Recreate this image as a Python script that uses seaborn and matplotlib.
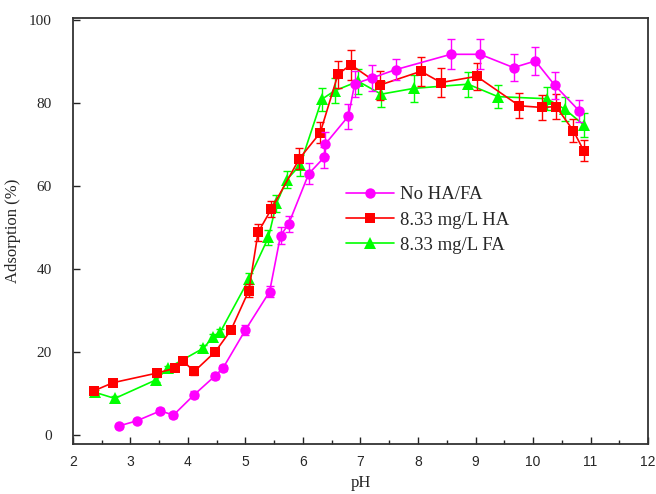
import numpy as np
import pandas as pd
import matplotlib
matplotlib.use("Agg")
import matplotlib.pyplot as plt
import seaborn as sns

# ---- data ----
ph_none = [2.81, 3.11, 3.52, 3.75, 4.11, 4.47, 4.61, 5.00, 5.42, 5.61, 5.75, 6.10,
           6.37, 6.39, 6.79, 6.90, 7.20, 7.61, 8.57, 9.08, 9.66, 10.04, 10.38, 10.80]
ads_none = [2.2, 3.4, 5.8, 4.8, 9.7, 14.2, 16.1, 25.3, 34.5, 48.0, 50.8, 62.9,
            66.9, 70.1, 76.8, 84.6, 86.0, 88.0, 91.7, 91.7, 88.5, 90.1, 84.2, 78.1]
err_none = [0.5, 0.5, 0.6, 0.6, 0.8, 0.8, 0.8, 1.2, 1.3, 2.0, 2.0, 2.5,
            2.5, 2.8, 3.0, 3.2, 3.2, 2.5, 3.6, 3.6, 3.2, 3.4, 3.2, 2.6]

ph_ha = [2.36, 2.70, 3.46, 3.78, 3.91, 4.11, 4.48, 4.75, 5.06, 5.22, 5.45, 5.94,
         6.30, 6.61, 6.83, 7.34, 8.05, 8.40, 9.02, 9.76, 10.15, 10.40, 10.70, 10.88]
ads_ha = [10.6, 12.6, 14.9, 16.1, 17.9, 15.3, 20.1, 25.3, 34.8, 48.8, 54.4, 66.6,
          72.8, 86.9, 89.2, 84.3, 87.6, 84.9, 86.4, 79.3, 78.9, 79.1, 73.3, 68.5]
err_ha = [0.5, 0.5, 0.6, 0.6, 0.6, 0.8, 0.8, 0.8, 1.5, 2.0, 2.0, 2.5,
          2.5, 3.3, 3.6, 3.5, 3.5, 3.5, 3.3, 3.0, 3.0, 3.0, 2.8, 2.5]

ph_fa = [2.38, 2.73, 3.45, 3.65, 4.27, 4.43, 4.56, 5.06, 5.40, 5.54, 5.72, 5.95,
         6.33, 6.55, 6.96, 7.36, 7.93, 8.87, 9.39, 10.24, 10.55, 10.88]
ads_fa = [10.3, 8.8, 13.3, 16.1, 20.9, 23.5, 24.7, 37.5, 47.6, 55.8, 61.5, 65.0,
          80.9, 82.9, 85.2, 82.1, 83.5, 84.5, 81.5, 81.0, 78.5, 74.7]
err_fa = [0.5, 0.5, 0.6, 0.6, 0.8, 0.8, 0.8, 1.5, 1.8, 2.0, 2.0, 2.5,
          2.8, 3.0, 3.0, 3.2, 3.2, 3.0, 2.8, 2.8, 2.8, 2.8]

labels = ["No HA/FA", "8.33 mg/L HA", "8.33 mg/L FA"]
x_ticks = [2, 3, 4, 5, 6, 7, 8, 9, 10, 11, 12]
y_ticks = [0, 20, 40, 60, 80, 100]

sns.set_style("ticks")
plt.rcParams["font.family"] = ["Liberation Serif", "DejaVu Serif"]

fig = plt.figure(figsize=(6.56, 4.94), dpi=100)
ax = fig.add_axes([0.111, 0.101, 0.877, 0.863])

series = [
    (ph_fa, ads_fa, err_fa, labels[2], "#00FF00", "^", 8.0),
    (ph_ha, ads_ha, err_ha, labels[1], "#FF0000", "s", 6.5),
    (ph_none, ads_none, err_none, labels[0], "#FF00FF", "o", 7.5),
]
for xs, ys, es, lab, col, mk, ms in series:
    df = pd.DataFrame({"pH": xs, "ads": ys})
    sns.lineplot(data=df, x="pH", y="ads", ax=ax, color=col, marker=mk,
                 markersize=ms, markeredgewidth=0, linewidth=1.2,
                 sort=False, estimator=None, label=lab)
    ax.errorbar(xs, ys, yerr=es, fmt="none", ecolor=col, elinewidth=1.0,
                capsize=3.2, capthick=1.0)

ax.set_xlim(2, 12)
ax.set_ylim(-2.2, 100.5)
ax.set_xticks(x_ticks)
ax.set_xticks(np.arange(2.5, 12, 1.0), minor=True)
ax.set_yticks(y_ticks)
ax.set_xticklabels([str(t) for t in x_ticks], family="Liberation Sans", fontsize=10)
ax.set_yticklabels([str(t) for t in y_ticks], fontsize=11)
ax.tick_params(axis="both", which="major", direction="in", length=5, width=1, color="#222222")
ax.tick_params(axis="x", which="minor", direction="in", length=3, width=1, color="#222222")
ax.tick_params(axis="y", which="major", pad=15)
ax.tick_params(axis="x", which="major", pad=8)

for s in ax.spines.values():
    s.set_visible(True)
    s.set_linewidth(1.3)
    s.set_color("#333333")

ax.set_xlabel("pH", fontsize=12, labelpad=4)
ax.set_ylabel("Adsorption (%)", fontsize=12, labelpad=6)

h, l = ax.get_legend_handles_labels()
order = [l.index(t) for t in labels]
ax.legend([h[i] for i in order], [l[i] for i in order], loc="upper left",
          bbox_to_anchor=(0.462, 0.623), frameon=False, fontsize=13.5,
          handlelength=2.55, labelspacing=0.44, borderaxespad=0, handletextpad=0.3)

fig.savefig("out.png", dpi=100)
